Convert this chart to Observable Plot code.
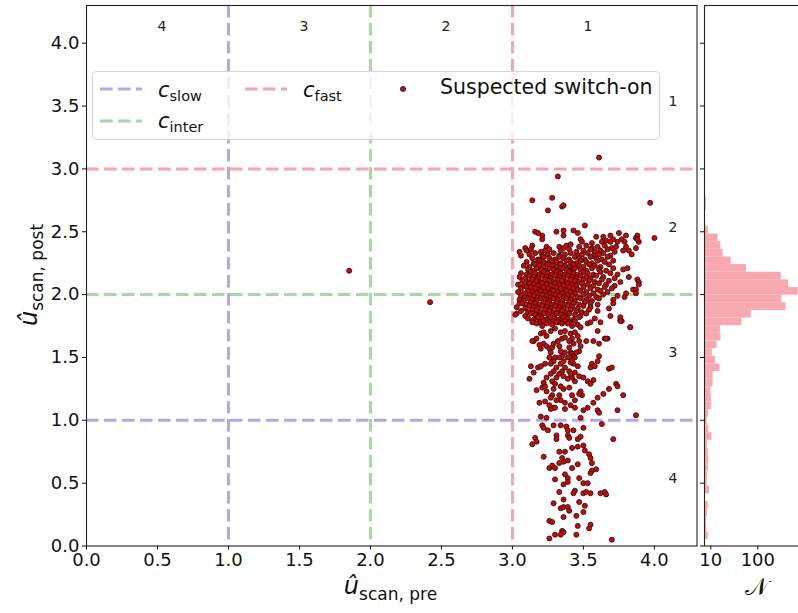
<!DOCTYPE html>
<html><head><meta charset="utf-8">
<script src="https://cdn.jsdelivr.net/npm/d3@7"></script>
<script src="https://cdn.jsdelivr.net/npm/@observablehq/plot@0.6"></script>
<style>
body{margin:0;background:#fff;}
#wrap{position:relative;width:798px;height:613px;overflow:hidden;font-family:"DejaVu Sans",sans-serif;}
#main{position:absolute;left:0;top:0;width:700px;height:613px;}
#hist{position:absolute;left:700px;top:0;width:110px;height:613px;}
#wrap svg{max-width:none !important;}
#overlay{position:absolute;left:0;top:0;pointer-events:none;}
</style></head><body>
<div id="wrap"><div id="main"></div><div id="hist"></div></div>
<script>
// ---------------- data ----------------
const axisTicks = [0.0, 0.5, 1.0, 1.5, 2.0, 2.5, 3.0, 3.5, 4.0];
const histTicks = [10, 100];
const thresholdNames = ["slow", "inter", "fast"];
const thresholdValues = [1, 2, 3];
const columnLabels = ["4", "3", "2", "1"];
const columnLabelX = [0.5, 1.5, 2.5, 3.5];
const columnLabelY = 4.1;
const rowLabels = ["1", "2", "3", "4"];
const rowLabelY = [3.5, 2.5, 1.5, 0.5];
const rowLabelX = 4.1;
const seriesName = "Suspected switch-on";

// histogram of post values (bins from binStart, width binWidth), counts
const binStart = 0.05;
const binWidth = 0.0608;
const histCounts = [8.8, 8.2, 8.1, 8.5, 8.8, 0, 9.4, 8.4, 8.5, 8.9,
  9.1, 8.8, 8.5, 10.5, 9.1, 8.4, 8.9, 10.3, 10.3, 10,
  11.2, 11.2, 15.7, 12.6, 10.8, 13.6, 16.5, 16.0, 46, 73,
  400, 324, 720, 450, 315, 57, 27, 18.2, 16.3, 14.3,
  8.9, 0, 0, 8.0, 8.0, 0, 0, 0, 0, 0];

// suspected switch-on points: [u_scan_pre, u_scan_post]
const switchOn = [
[1.85,2.19],[2.42,1.94],
[3.61,3.09],[3.32,2.94],[3.14,2.75],[3.28,2.77],[3.25,2.67],[3.35,2.70],[3.36,2.71],[3.97,2.73],[3.51,2.55],
[3.16,2.50],[3.18,2.49],[3.21,2.47],[3.21,2.44],[3.31,2.50],[3.36,2.51],[3.36,2.47],[3.43,2.51],[3.46,2.49],
[3.48,2.44],[3.49,2.42],[4.00,2.45],[3.41,2.40],[3.59,2.46],[3.64,2.46],[3.69,2.47],[3.75,2.49],[3.80,2.47],
[3.88,2.47],[3.89,2.42],[3.87,2.45],[3.66,2.43],[3.71,2.44],[3.77,2.44],[3.79,2.42],[3.74,2.42],[3.69,2.42],
[3.63,2.42],[3.56,2.41],[3.88,2.44],[3.87,2.37],[3.80,2.38],[3.78,2.35],
[3.09,2.37],[3.14,2.39],[3.24,2.38],[3.26,2.36],[3.33,2.38],[3.36,2.37],[3.38,2.39],[3.47,2.38],[3.52,2.39],[3.56,2.37],[3.60,2.38],[3.65,2.39],[3.70,2.37],[3.73,2.38],
[3.05,2.34],[3.10,2.35],[3.13,2.36],[3.20,2.34],[3.23,2.35],[3.34,2.35],[3.40,2.36],[3.45,2.34],[3.50,2.35],[3.55,2.36],[3.58,2.34],[3.62,2.35],[3.67,2.36],[3.72,2.34],[3.82,2.35],
[3.06,2.31],[3.12,2.32],[3.16,2.33],[3.21,2.31],[3.25,2.32],[3.29,2.33],[3.33,2.31],[3.37,2.32],[3.41,2.33],[3.46,2.31],[3.49,2.32],[3.53,2.33],[3.57,2.31],[3.61,2.32],[3.64,2.33],[3.69,2.31],[3.84,2.32],
[3.14,2.29],[3.18,2.28],[3.22,2.30],[3.26,2.29],[3.30,2.28],[3.33,2.30],[3.36,2.29],[3.40,2.28],[3.44,2.30],[3.47,2.29],[3.51,2.28],[3.55,2.30],[3.59,2.29],[3.63,2.28],[3.67,2.30],[3.71,2.27],
[3.10,2.26],[3.15,2.25],[3.19,2.27],[3.22,2.26],[3.25,2.25],[3.28,2.27],[3.31,2.26],[3.34,2.25],[3.38,2.27],[3.41,2.26],[3.45,2.25],[3.48,2.27],[3.52,2.26],[3.56,2.25],[3.60,2.27],[3.65,2.26],
[3.08,2.23],[3.12,2.22],[3.16,2.24],[3.19,2.23],[3.22,2.22],[3.25,2.24],[3.28,2.23],[3.31,2.22],[3.34,2.24],[3.37,2.23],[3.40,2.22],[3.43,2.24],[3.47,2.23],[3.50,2.22],[3.54,2.24],[3.58,2.23],[3.62,2.22],[3.68,2.24],
[3.11,2.20],[3.14,2.19],[3.17,2.21],[3.20,2.20],[3.23,2.19],[3.26,2.21],[3.29,2.20],[3.32,2.19],[3.35,2.21],[3.38,2.20],[3.41,2.19],[3.44,2.21],[3.48,2.20],[3.52,2.19],[3.56,2.21],[3.61,2.20],[3.66,2.19],[3.71,2.21],[3.78,2.20],[3.81,2.21],
[3.06,2.17],[3.10,2.16],[3.13,2.18],[3.16,2.17],[3.19,2.16],[3.22,2.18],[3.25,2.17],[3.28,2.16],[3.31,2.18],[3.34,2.17],[3.37,2.16],[3.40,2.18],[3.43,2.17],[3.46,2.16],[3.50,2.18],[3.53,2.17],[3.57,2.16],[3.62,2.18],[3.69,2.17],[3.74,2.16],
[3.05,2.14],[3.09,2.13],[3.12,2.15],[3.15,2.14],[3.18,2.13],[3.21,2.15],[3.24,2.14],[3.27,2.13],[3.30,2.15],[3.33,2.14],[3.36,2.13],[3.39,2.15],[3.42,2.14],[3.45,2.13],[3.48,2.15],[3.52,2.14],[3.55,2.13],[3.59,2.15],[3.64,2.14],[3.72,2.13],[3.82,2.14],[3.88,2.12],
[3.07,2.11],[3.11,2.10],[3.14,2.12],[3.17,2.11],[3.20,2.10],[3.23,2.12],[3.26,2.11],[3.29,2.10],[3.32,2.12],[3.35,2.11],[3.38,2.10],[3.41,2.12],[3.44,2.11],[3.47,2.10],[3.50,2.12],[3.54,2.11],[3.58,2.10],[3.63,2.12],[3.68,2.11],[3.76,2.10],[3.89,2.10],
[3.04,2.08],[3.08,2.07],[3.12,2.09],[3.15,2.08],[3.18,2.07],[3.21,2.09],[3.24,2.08],[3.27,2.07],[3.30,2.09],[3.33,2.08],[3.36,2.07],[3.39,2.09],[3.42,2.08],[3.45,2.07],[3.49,2.09],[3.53,2.08],[3.57,2.07],[3.61,2.09],[3.66,2.08],[3.72,2.07],[3.89,2.08],
[3.10,2.06],[3.06,2.05],[3.13,2.06],[3.16,2.05],[3.19,2.04],[3.22,2.06],[3.25,2.05],[3.28,2.04],[3.31,2.06],[3.34,2.05],[3.37,2.04],[3.40,2.06],[3.43,2.05],[3.46,2.04],[3.50,2.06],[3.55,2.05],[3.60,2.04],[3.65,2.06],[3.70,2.05],[3.85,2.04],[3.87,2.04],
[3.04,2.02],[3.08,2.01],[3.11,2.03],[3.14,2.02],[3.17,2.01],[3.20,2.03],[3.23,2.02],[3.26,2.01],[3.29,2.03],[3.32,2.02],[3.35,2.01],[3.38,2.03],[3.41,2.02],[3.44,2.01],[3.48,2.03],[3.52,2.02],[3.57,2.01],[3.62,2.03],[3.67,2.02],[3.80,2.01],[3.87,2.01],
[3.06,1.99],[3.09,1.98],[3.12,2.00],[3.15,1.99],[3.18,1.98],[3.21,2.00],[3.24,1.99],[3.27,1.98],[3.30,2.00],[3.33,1.99],[3.36,1.98],[3.39,2.00],[3.42,1.99],[3.46,1.98],[3.50,2.00],[3.54,1.99],[3.59,1.98],[3.64,2.00],[3.74,1.99],[3.79,1.98],
[3.05,1.96],[3.08,1.95],[3.11,1.97],[3.14,1.96],[3.17,1.95],[3.20,1.97],[3.23,1.96],[3.26,1.95],[3.29,1.97],[3.32,1.96],[3.35,1.95],[3.38,1.97],[3.41,1.96],[3.44,1.95],[3.48,1.97],[3.52,1.96],[3.56,1.95],[3.61,1.97],[3.71,1.96],
[3.05,1.93],[3.07,1.93],[3.10,1.92],[3.13,1.94],[3.16,1.93],[3.19,1.92],[3.22,1.94],[3.25,1.93],[3.28,1.92],[3.31,1.94],[3.34,1.93],[3.37,1.92],[3.40,1.94],[3.43,1.93],[3.47,1.92],[3.51,1.94],[3.55,1.93],[3.60,1.92],[3.71,1.93],
[3.03,1.90],[3.09,1.89],[3.12,1.91],[3.15,1.90],[3.18,1.89],[3.21,1.91],[3.24,1.90],[3.27,1.89],[3.30,1.91],[3.33,1.90],[3.36,1.89],[3.39,1.91],[3.42,1.90],[3.46,1.89],[3.50,1.91],[3.55,1.90],[3.68,1.89],
[3.06,1.87],[3.11,1.86],[3.14,1.88],[3.17,1.87],[3.20,1.86],[3.23,1.88],[3.26,1.87],[3.29,1.86],[3.32,1.88],[3.35,1.87],[3.38,1.86],[3.41,1.88],[3.45,1.87],[3.49,1.86],[3.54,1.88],[3.60,1.87],
[3.03,1.85],[3.02,1.84],[3.09,1.83],[3.13,1.85],[3.16,1.84],[3.19,1.83],[3.22,1.85],[3.25,1.84],[3.28,1.83],[3.31,1.85],[3.34,1.84],[3.37,1.83],[3.40,1.85],[3.44,1.84],[3.48,1.83],[3.52,1.85],[3.69,1.83],
[3.11,1.81],[3.15,1.80],[3.18,1.82],[3.21,1.81],[3.24,1.80],[3.27,1.82],[3.30,1.81],[3.33,1.80],[3.36,1.82],[3.39,1.81],[3.43,1.80],[3.47,1.82],[3.58,1.81],[3.62,1.78],[3.77,1.79],[3.76,1.80],[3.76,1.82],[3.83,1.74],
[3.19,1.78],[3.22,1.79],[3.26,1.78],[3.29,1.79],[3.33,1.78],[3.37,1.79],[3.40,1.78],[3.44,1.79],
[3.14,1.78],[3.17,1.77],[3.21,1.75],[3.24,1.77],[3.28,1.76],[3.31,1.78],[3.35,1.77],[3.39,1.77],[3.42,1.75],[3.46,1.76],[3.48,1.74],[3.53,1.77],[3.55,1.78],[3.60,1.71],
[3.76,1.79],[3.83,1.74],[3.67,1.65],[3.65,1.65],[3.61,1.61],[3.57,1.63],[3.52,1.63],[3.66,1.65],[3.15,1.63],
[3.27,1.71],[3.30,1.73],[3.34,1.70],[3.37,1.71],[3.41,1.69],[3.44,1.70],[3.46,1.67],[3.42,1.65],[3.40,1.63],[3.43,1.61],[3.47,1.63],[3.20,1.69],[3.22,1.70],[3.24,1.67],[3.17,1.65],
[3.14,1.63],[3.19,1.60],[3.20,1.57],[3.22,1.61],[3.24,1.59],[3.26,1.57],[3.27,1.54],[3.28,1.58],[3.29,1.61],[3.32,1.63],[3.33,1.59],[3.34,1.55],[3.35,1.65],[3.37,1.66],
[3.40,1.58],[3.41,1.54],[3.42,1.53],[3.43,1.51],[3.47,1.55],[3.39,1.50],[3.36,1.47],[3.34,1.45],[3.31,1.42],[3.29,1.39],[3.27,1.37],[3.24,1.34],[3.22,1.30],
[3.17,1.24],[3.21,1.26],[3.23,1.27],[3.28,1.31],[3.31,1.34],[3.36,1.35],[3.39,1.33],[3.42,1.34],[3.44,1.31],[3.47,1.35],[3.50,1.34],[3.53,1.31],[3.55,1.29],[3.57,1.32],
[3.46,1.43],[3.43,1.45],[3.41,1.46],[3.55,1.42],[3.56,1.45],[3.58,1.43],[3.60,1.47],[3.61,1.51],[3.68,1.41],[3.70,1.42],[3.73,1.29],[3.74,1.27],[3.78,1.20],
[3.68,1.25],[3.64,1.21],[3.60,1.18],[3.49,1.20],[3.48,1.23],[3.47,1.21],[3.44,1.16],[3.41,1.12],[3.42,1.20],[3.37,1.14],[3.34,1.16],[3.31,1.16],[3.29,1.10],[3.27,1.09],
[3.26,1.12],[3.28,1.20],[3.27,1.18],[3.33,1.20],[3.36,1.25],[3.40,1.26],[3.19,1.14],[3.23,1.15],[3.12,1.33],[3.13,1.43],[3.15,1.38],[3.18,1.42],[3.20,1.43],
[3.20,1.03],[3.24,1.02],[3.48,1.02],[3.50,1.08],[3.60,1.08],[3.61,1.06],[3.74,1.08],[3.87,1.04],[3.57,1.14],[3.53,1.10],[3.44,1.10],[3.37,1.09],[3.30,1.10],
[3.44,1.50],[3.42,1.48],[3.45,1.54],[3.48,1.59],[3.37,1.54],[3.35,1.51],[3.30,1.50],[3.28,1.47],[3.26,1.50],[3.23,1.45],
[3.29,1.47],[3.33,1.50],[3.27,1.45],[3.37,1.42],[3.40,1.39],[3.35,1.39],[3.33,1.37],[3.41,1.37],[3.44,1.38],[3.30,1.29],[3.34,1.27],[3.24,1.23],[3.29,1.25],
[3.21,0.96],[3.22,0.94],[3.25,0.92],[3.29,0.96],[3.34,0.96],[3.38,0.95],[3.39,0.92],[3.43,0.92],[3.50,0.94],[3.63,0.97],[3.71,0.85],
[3.16,0.86],[3.17,0.83],[3.14,0.81],[3.31,0.88],[3.31,0.85],[3.39,0.88],[3.40,0.86],[3.46,0.85],[3.48,0.87],[3.46,0.79],[3.50,0.80],[3.42,0.78],[3.51,0.76],
[3.54,0.73],[3.55,0.70],[3.56,0.66],[3.59,0.61],[3.56,0.60],[3.55,0.58],[3.33,0.75],[3.37,0.75],[3.22,0.71],[3.39,0.68],[3.36,0.67],[3.35,0.70],[3.33,0.66],
[3.28,0.64],[3.26,0.62],[3.30,0.62],[3.46,0.65],[3.42,0.62],[3.37,0.57],[3.39,0.54],[3.39,0.51],[3.36,0.49],[3.30,0.53],[3.47,0.54],[3.50,0.50],[3.53,0.50],
[3.44,0.44],[3.43,0.42],[3.50,0.42],[3.52,0.43],[3.55,0.42],[3.62,0.42],[3.65,0.43],[3.66,0.41],[3.33,0.43],[3.29,0.34],[3.36,0.37],[3.47,0.35],[3.51,0.32],
[3.50,0.27],[3.45,0.24],[3.34,0.30],[3.36,0.31],[3.39,0.31],[3.40,0.28],[3.36,0.23],[3.26,0.20],[3.28,0.19],[3.46,0.16],[3.55,0.17],[3.54,0.14],
[3.35,0.12],[3.36,0.11],[3.34,0.09],[3.30,0.09],[3.26,0.06],[3.45,0.09],[3.70,0.05]
];

// ---------------- styles ----------------
const lineColors = {slow: "#b1a9e3", inter: "#a9d7a4", fast: "#f6a5ad"};
const histColor = "#f7a9af";
const dotFill = "#e00000", dotStroke = "#1a1a1a";
const dash = "12.5,5.5";

// ---------------- main panel ----------------
const marks = [];
thresholdNames.forEach((n, i) => {
  marks.push(Plot.ruleX([thresholdValues[i]], {x: d => d, stroke: lineColors[n], strokeWidth: 3, strokeDasharray: dash}));
  marks.push(Plot.ruleY([thresholdValues[i]], {y: d => d, stroke: lineColors[n], strokeWidth: 3, strokeDasharray: dash}));
});
marks.push(Plot.text(columnLabels, {x: (d, i) => columnLabelX[i], y: columnLabelY, text: d => d, textAnchor: "start", lineAnchor: "bottom", fontSize: 14, fill: "#222"}));
marks.push(Plot.text(rowLabels, {x: rowLabelX, y: (d, i) => rowLabelY[i], text: d => d, textAnchor: "start", lineAnchor: "bottom", fontSize: 14, fill: "#222"}));
marks.push(Plot.dot(switchOn, {x: d => d[0], y: d => d[1], r: 2.5, fill: dotFill, stroke: dotStroke, strokeWidth: 0.9}));
marks.push(Plot.frame({stroke: "#222", strokeWidth: 1.1}));

const main = Plot.plot({
  width: 700, height: 613,
  marginLeft: 86, marginRight: 3.5, marginTop: 5, marginBottom: 67.5,
  style: {fontFamily: "DejaVu Sans", fontSize: "18px", color: "#111", background: "transparent", maxWidth: "none"},
  x: {domain: [0, 4.3], ticks: axisTicks, tickFormat: d => d.toFixed(1), label: null, tickSize: 4, tickPadding: 3},
  y: {domain: [0, 4.3], ticks: axisTicks, tickFormat: d => d.toFixed(1), label: null, tickSize: 4, tickPadding: 3},
  marks
});
document.getElementById("main").appendChild(main);

// ---------------- histogram panel ----------------
const histBins = histCounts.map((c, i) => ({count: c, y0: binStart + i * binWidth, y1: binStart + (i + 1) * binWidth})).filter(d => d.count > 0);
const hist = Plot.plot({
  width: 110, height: 613,
  marginLeft: 4, marginRight: 0, marginTop: 5, marginBottom: 67.5,
  style: {fontFamily: "DejaVu Sans", fontSize: "18px", color: "#111", background: "transparent", maxWidth: "none"},
  x: {type: "log", domain: [7.35, 1320], ticks: histTicks, tickFormat: d => String(d), label: null, tickSize: 4, tickPadding: 3},
  y: {domain: [0, 4.3], ticks: axisTicks, tickFormat: () => "", label: null, tickSize: 4},
  marks: [
    Plot.rectX(histBins, {x1: 1, x2: "count", y1: "y0", y2: "y1", fill: histColor, inset: 0, clip: true}),
    Plot.frame({stroke: "#222", strokeWidth: 1.1})
  ]
});
document.getElementById("hist").appendChild(hist);

// ---------------- axis labels ----------------
const ms = d3.select(main);
const xl = ms.append("text").attr("x", 390.5).attr("y", 594).attr("text-anchor", "middle").attr("fill", "#111");
xl.append("tspan").attr("font-style", "italic").attr("font-size", 24).text("û");
xl.append("tspan").attr("font-size", 17).attr("dy", 6).text("scan, pre");
const yl = ms.append("text").attr("transform", "translate(37,275) rotate(-90)").attr("text-anchor", "middle").attr("fill", "#111");
yl.append("tspan").attr("font-style", "italic").attr("font-size", 24).text("û");
yl.append("tspan").attr("font-size", 17).attr("dy", 6).text("scan, post");
d3.select(hist).append("text").attr("x", 56).attr("y", 595).attr("text-anchor", "middle").attr("fill", "#111")
  .attr("font-size", 24).text("𝒩");

// ---------------- legend ----------------
const ov = d3.select("#wrap").append("svg").attr("id", "overlay").attr("width", 798).attr("height", 613)
  .style("font-family", "DejaVu Sans");
ov.append("rect").attr("x", 92.5).attr("y", 71.5).attr("width", 567).attr("height", 68).attr("rx", 4)
  .attr("fill", "#fff").attr("fill-opacity", 0.8).attr("stroke", "#d6d6d6");
const legendItems = [
  {name: "slow", lx: 100, ly: 89, tx: 158, ty: 97},
  {name: "inter", lx: 100, ly: 121, tx: 158, ty: 128},
  {name: "fast", lx: 245, ly: 89, tx: 303, ty: 97}
];
legendItems.forEach(it => {
  ov.append("line").attr("x1", it.lx).attr("x2", it.lx + 42).attr("y1", it.ly).attr("y2", it.ly)
    .attr("stroke", lineColors[it.name]).attr("stroke-width", 3).attr("stroke-dasharray", dash);
  const t = ov.append("text").attr("x", it.tx).attr("y", it.ty).attr("fill", "#111");
  t.append("tspan").attr("font-style", "italic").attr("font-size", 21).text("c");
  t.append("tspan").attr("font-size", 14.5).attr("dy", 3.5).text(it.name);
});
ov.append("circle").attr("cx", 403).attr("cy", 89).attr("r", 2.5).attr("fill", dotFill).attr("stroke", dotStroke).attr("stroke-width", 0.9);
ov.append("text").attr("x", 440).attr("y", 94).attr("font-size", 20.5).attr("fill", "#111").text(seriesName);
</script>
</body></html>
